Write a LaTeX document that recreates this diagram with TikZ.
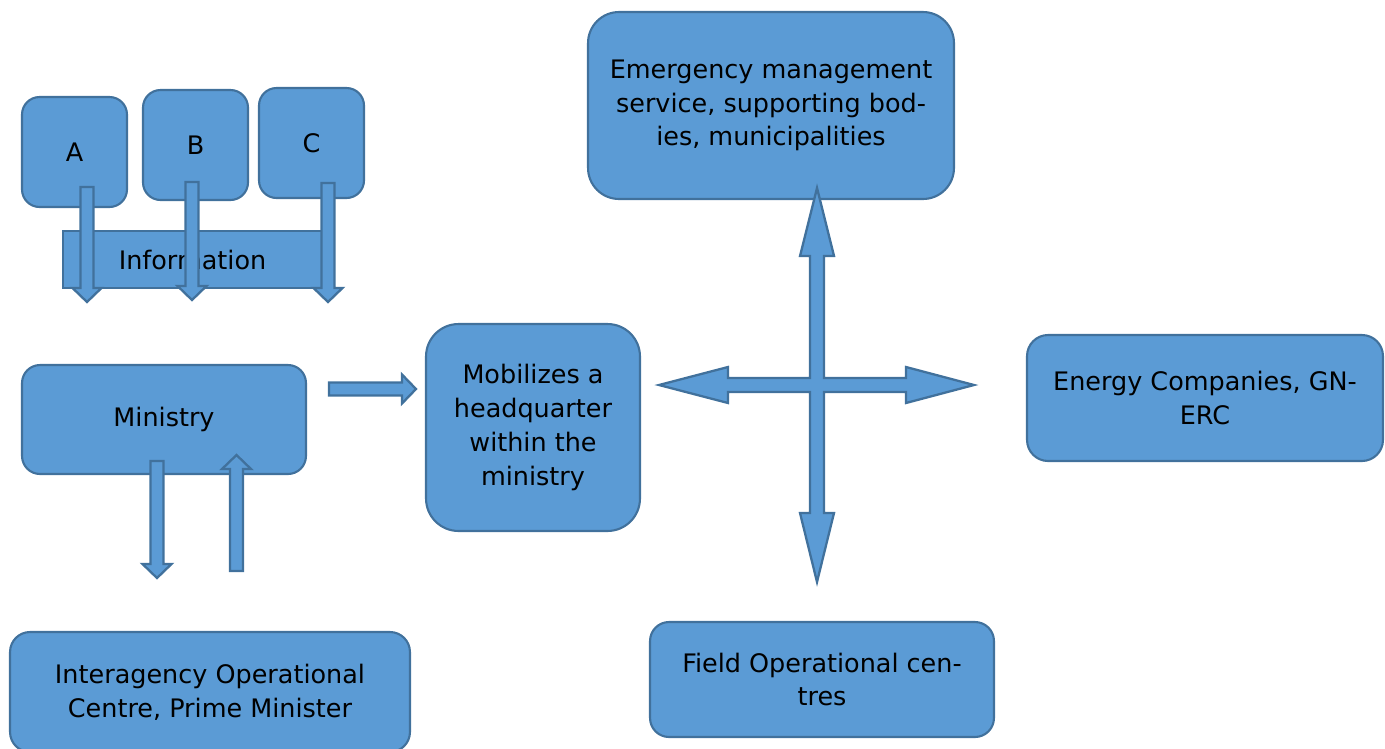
\documentclass[tikz,border=0pt]{standalone}
\usepackage{fontspec}
\setmainfont{DejaVu Sans}
\usetikzlibrary{positioning,calc}
\definecolor{boxblue}{RGB}{91,155,213}
\definecolor{boxline}{RGB}{65,113,156}

\tikzset{
  box/.style={draw=boxline, fill=boxblue, line width=1.2pt, rounded corners=#1,
    align=center, inner sep=0pt, font=\fontsize{14.5}{19.2}\selectfont},
  box/.default=0.38cm,
  barrow/.style={draw=boxline, fill=boxblue, line width=1.3pt, line join=miter}
}
% block arrow: start, angle, length
\newcommand\blockarrow[3]{%
  \draw[barrow,shift={(#1)},rotate=#2] (0,-6.5) -- (#3-14,-6.5) -- (#3-14,-14.5)
    -- (#3,0) -- (#3-14,14.5) -- (#3-14,6.5) -- (0,6.5) -- cycle;}

\begin{document}
\begin{tikzpicture}[x=0.02cm,y=-0.02cm]
\useasboundingbox (0,0) rectangle (1385,748);
% sources
\node[box=0.35cm, minimum width=2.1cm, minimum height=2.2cm] (a) at (74.5,152) {A};
\node[box=0.35cm, minimum width=2.1cm, minimum height=2.2cm] (b) at (195.5,145) {B};
\node[box=0.35cm, minimum width=2.1cm, minimum height=2.2cm] (c) at (311.5,143) {C};
\node[box=0pt, minimum width=5.18cm, minimum height=1.14cm] (info) at (192.5,259.5) {Information};
\coordinate (aout) at (87,187);
\coordinate (bout) at (192,182);
\coordinate (cout) at (328,183);
\blockarrow{aout}{-90}{115}
\blockarrow{bout}{-90}{118}
\blockarrow{cout}{-90}{119}

% ministry and centre
\node[box=0.36cm, minimum width=5.68cm, minimum height=2.18cm] (min) at (164,419.5) {Ministry};
\node[box=0.4cm, minimum width=8cm, minimum height=2.4cm] (iac) at (210,692)
  {Interagency Operational\\Centre, Prime Minister};
\coordinate (mindown) at (157,461);
\coordinate (minup) at (236.5,571);
\blockarrow{mindown}{-90}{117}
\blockarrow{minup}{90}{116}

% headquarter
\node[box=0.65cm, minimum width=4.28cm, minimum height=4.14cm] (hq) at (533,427.5)
  {Mobilizes a\\headquarter\\within the\\ministry};
\coordinate (minout) at (329,389);
\blockarrow{minout}{0}{87}

% the four targets
\node[box=0.62cm, minimum width=7.32cm, minimum height=3.74cm] (ems) at (771,105.5)
  {Emergency management\\service, supporting bod-\\ies, municipalities};
\node[box=0.42cm, minimum width=7.12cm, minimum height=2.52cm] (energy) at (1205,398)
  {Energy Companies, GN-\\ERC};
\node[box=0.38cm, minimum width=6.88cm, minimum height=2.3cm] (field) at (822,679.5)
  {Field Operational cen-\\tres};
\coordinate (hub) at (817,385);
\draw[barrow,shift={(hub)}] (0,-197) -- (17,-129) -- (7,-129) -- (7,-7) -- (89,-7)
  -- (89,-18) -- (157,0) -- (89,18) -- (89,7) -- (7,7) -- (7,128) -- (17,128)
  -- (0,197) -- (-17,128) -- (-7,128) -- (-7,7) -- (-89,7) -- (-89,18)
  -- (-158,0) -- (-89,-18) -- (-89,-7) -- (-7,-7) -- (-7,-129) -- (-17,-129) -- cycle;
\end{tikzpicture}
\end{document}
